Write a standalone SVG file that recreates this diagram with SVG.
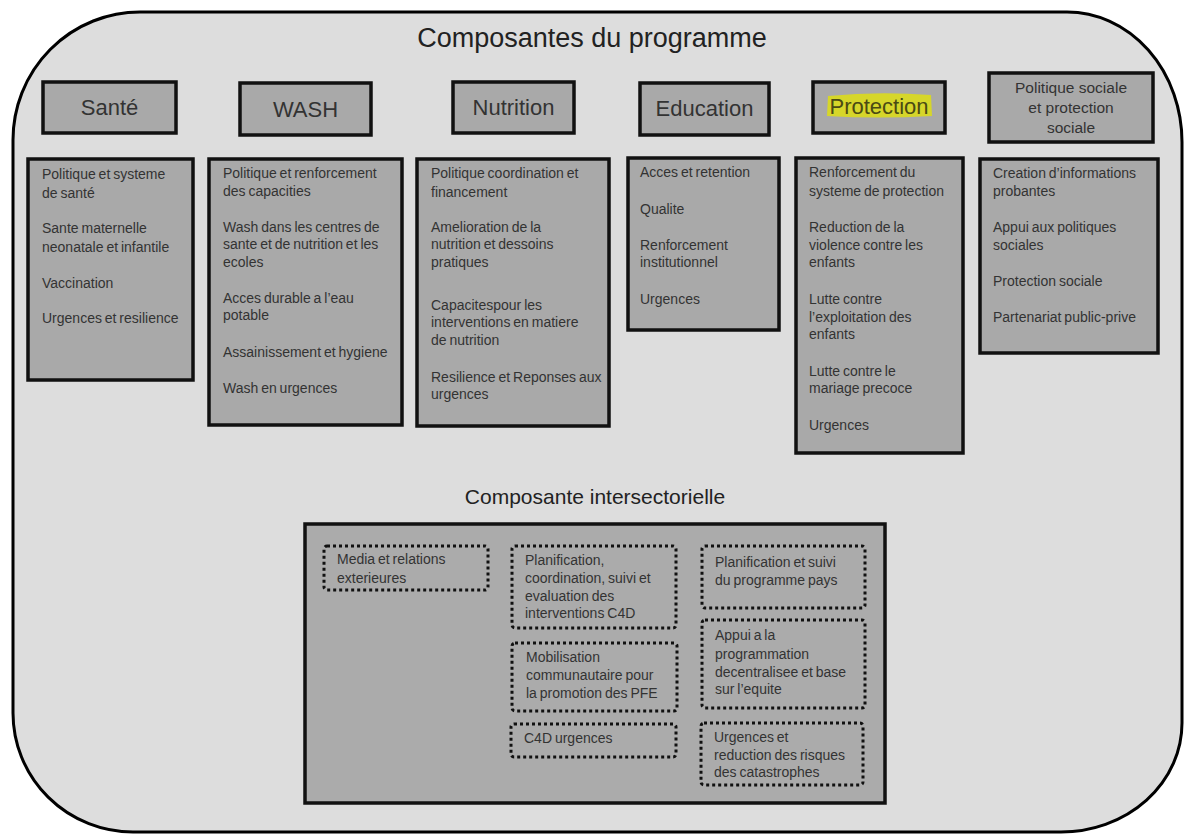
<svg xmlns="http://www.w3.org/2000/svg" width="1184" height="834" viewBox="0 0 1184 834">
<style>
.frame{fill:#dddddd;stroke:#000;stroke-width:3}
.hdr{fill:#a9a9a9;stroke:#111;stroke-width:3.5}
.det{fill:#a9a9a9;stroke:#111;stroke-width:3.5}
.big{fill:#ababab;stroke:#111;stroke-width:3.5}
.dot{fill:none;stroke:#111;stroke-width:3;stroke-dasharray:3 3}
.title{font-family:"Liberation Sans",Arial,sans-serif;font-size:27px;fill:#222;text-anchor:middle}
.h{font-family:"Liberation Sans",Arial,sans-serif;font-size:22px;fill:#333;text-anchor:middle}
.hs{font-family:"Liberation Sans",Arial,sans-serif;font-size:15.5px;fill:#333;text-anchor:middle}
.t{font-family:"Liberation Sans",Arial,sans-serif;font-size:14px;fill:#333;word-spacing:-1px}
</style>
<rect width="1184" height="834" fill="#ffffff"/>
<path class="frame" d="M 140 12 H 1067 A 115 130 0 0 1 1182 142 V 723 A 121 109 0 0 1 1061 832 H 133 A 120 119 0 0 1 13 713 V 140 A 127 128 0 0 1 140 12 Z"/>
<text class="title" x="592" y="47">Composantes du programme</text>

<g id="sante">
<rect class="hdr" x="43" y="82" width="133" height="51"/>
<text class="h" x="109.5" y="115">Santé</text>
<rect class="det" x="28" y="159" width="165" height="221"/>
<text class="t"><tspan x="42" y="179">Politique et systeme</tspan><tspan x="42" y="198">de santé</tspan><tspan x="42" y="233">Sante maternelle</tspan><tspan x="42" y="252">neonatale et infantile</tspan><tspan x="42" y="288">Vaccination</tspan><tspan x="42" y="323">Urgences et resilience</tspan></text>
</g>

<g id="wash">
<rect class="hdr" x="240" y="83" width="131" height="52"/>
<text class="h" x="305.5" y="117">WASH</text>
<rect class="det" x="209" y="159" width="193" height="266"/>
<text class="t"><tspan x="223" y="178">Politique et renforcement</tspan><tspan x="223" y="196">des capacities</tspan><tspan x="223" y="232">Wash dans les centres de</tspan><tspan x="223" y="249">sante et de nutrition et les</tspan><tspan x="223" y="267">ecoles</tspan><tspan x="223" y="303">Acces durable a l’eau</tspan><tspan x="223" y="320">potable</tspan><tspan x="223" y="357">Assainissement et hygiene</tspan><tspan x="223" y="393">Wash en urgences</tspan></text>
</g>

<g id="nutrition">
<rect class="hdr" x="453" y="82" width="121" height="51"/>
<text class="h" x="513.5" y="115">Nutrition</text>
<rect class="det" x="417" y="159" width="192" height="267"/>
<text class="t"><tspan x="431" y="178">Politique coordination et</tspan><tspan x="431" y="197">financement</tspan><tspan x="431" y="232">Amelioration de la</tspan><tspan x="431" y="249">nutrition et dessoins</tspan><tspan x="431" y="267">pratiques</tspan><tspan x="431" y="310">Capacitespour les</tspan><tspan x="431" y="327">interventions en matiere</tspan><tspan x="431" y="345">de nutrition</tspan><tspan x="431" y="382">Resilience et Reponses aux</tspan><tspan x="431" y="399">urgences</tspan></text>
</g>

<g id="education">
<rect class="hdr" x="640" y="83" width="129" height="52"/>
<text class="h" x="704.5" y="116">Education</text>
<rect class="det" x="628" y="158" width="151" height="172"/>
<text class="t"><tspan x="640" y="177">Acces et retention</tspan><tspan x="640" y="214">Qualite</tspan><tspan x="640" y="250">Renforcement</tspan><tspan x="640" y="267">institutionnel</tspan><tspan x="640" y="304">Urgences</tspan></text>
</g>

<g id="protection">
<rect class="hdr" x="813" y="82" width="132" height="51"/>
<path d="M 828 96 Q 878 91 931 95 L 932 116 Q 878 119 827 116 Z" fill="#d6d62a"/>
<text class="h" x="879" y="114" style="fill:#4a4a14">Protection</text>
<rect class="det" x="796" y="158" width="167" height="295"/>
<text class="t"><tspan x="809" y="177">Renforcement du</tspan><tspan x="809" y="196">systeme de protection</tspan><tspan x="809" y="232">Reduction de la</tspan><tspan x="809" y="250">violence contre les</tspan><tspan x="809" y="267">enfants</tspan><tspan x="809" y="304">Lutte contre</tspan><tspan x="809" y="322">l’exploitation des</tspan><tspan x="809" y="339">enfants</tspan><tspan x="809" y="376">Lutte contre le</tspan><tspan x="809" y="393">mariage precoce</tspan><tspan x="809" y="430">Urgences</tspan></text>
</g>

<g id="politique-sociale">
<rect class="hdr" x="989" y="73" width="164" height="69"/>
<text class="hs"><tspan x="1071" y="93">Politique sociale</tspan><tspan x="1071" y="113">et protection</tspan><tspan x="1071" y="133">sociale</tspan></text>
<rect class="det" x="980" y="159" width="178" height="194"/>
<text class="t"><tspan x="993" y="178">Creation d’informations</tspan><tspan x="993" y="196">probantes</tspan><tspan x="993" y="232">Appui aux politiques</tspan><tspan x="993" y="250">sociales</tspan><tspan x="993" y="286">Protection sociale</tspan><tspan x="993" y="322">Partenariat public-prive</tspan></text>
</g>

<g id="intersectoriel">
<text class="h" x="595" y="504" style="font-size:21px;fill:#222">Composante intersectorielle</text>
<rect class="big" x="305" y="524" width="580" height="279"/>
</g>

<g id="media">
<rect class="dot" x="324" y="546" width="164" height="44" rx="3"/>
<text class="t"><tspan x="337" y="564">Media et relations</tspan><tspan x="337" y="583">exterieures</tspan></text>
</g>
<g id="planification-c4d">
<rect class="dot" x="512" y="546" width="164" height="82" rx="3"/>
<text class="t"><tspan x="525" y="565">Planification,</tspan><tspan x="525" y="583">coordination, suivi et</tspan><tspan x="525" y="601">evaluation des</tspan><tspan x="525" y="618">interventions C4D</tspan></text>
</g>
<g id="mobilisation">
<rect class="dot" x="512" y="643" width="165" height="68" rx="3"/>
<text class="t"><tspan x="526" y="662">Mobilisation</tspan><tspan x="526" y="680">communautaire pour</tspan><tspan x="526" y="698">la promotion des PFE</tspan></text>
</g>
<g id="c4d-urgences">
<rect class="dot" x="511" y="724" width="165" height="33" rx="3"/>
<text class="t"><tspan x="524" y="743">C4D urgences</tspan></text>
</g>
<g id="planification-pays">
<rect class="dot" x="702" y="546" width="163" height="62" rx="3"/>
<text class="t"><tspan x="715" y="567">Planification et suivi</tspan><tspan x="715" y="585">du programme pays</tspan></text>
</g>
<g id="appui-programmation">
<rect class="dot" x="702" y="620" width="163" height="88" rx="3"/>
<text class="t"><tspan x="715" y="640">Appui a la</tspan><tspan x="715" y="659">programmation</tspan><tspan x="715" y="677">decentralisee et base</tspan><tspan x="715" y="694">sur l’equite</tspan></text>
</g>
<g id="urgences-rrc">
<rect class="dot" x="701" y="723" width="162" height="62" rx="3"/>
<text class="t"><tspan x="714" y="742">Urgences et</tspan><tspan x="714" y="760">reduction des risques</tspan><tspan x="714" y="777">des catastrophes</tspan></text>
</g>
<g id="connectors"></g>
</svg>
